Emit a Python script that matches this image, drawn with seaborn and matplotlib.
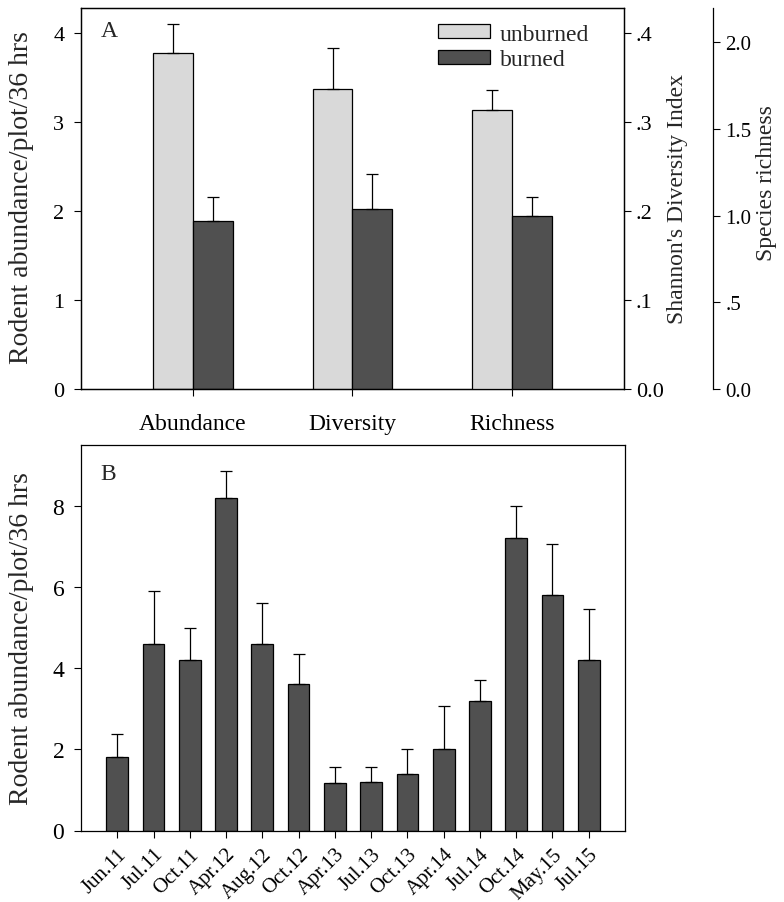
import pandas as pd
import numpy as np
import matplotlib
matplotlib.use("Agg")
import matplotlib.pyplot as plt
import seaborn as sns
from matplotlib.patches import Patch

# === DATA ===
metrics = ["Abundance", "Diversity", "Richness"]
treatments = ["unburned", "burned"]
abund_mean = [3.78, 1.885]
abund_se = [0.33, 0.28]
div_mean = [0.337, 0.202]
div_se = [0.047, 0.040]
rich_mean = [1.61, 1.00]
rich_se = [0.115, 0.108]

months = ["Jun.11", "Jul.11", "Oct.11", "Apr.12", "Aug.12", "Oct.12", "Apr.13",
          "Jul.13", "Oct.13", "Apr.14", "Jul.14", "Oct.14", "May.15", "Jul.15"]
month_mean = [1.8, 4.6, 4.2, 8.2, 4.6, 3.6, 1.17, 1.2, 1.4, 2.0, 3.2, 7.2, 5.8, 4.2]
month_se = [0.57, 1.3, 0.8, 0.66, 1.0, 0.75, 0.4, 0.37, 0.6, 1.08, 0.5, 0.8, 1.27, 1.25]

colors = {"unburned": "#d9d9d9", "burned": "#505050"}

# === STYLE ===
sns.set_style("ticks")
plt.rcParams["font.family"] = ["Liberation Serif", "DejaVu Serif"]
plt.rcParams["axes.linewidth"] = 0.9
plt.rcParams["xtick.major.size"] = 5
plt.rcParams["ytick.major.size"] = 5
plt.rcParams["xtick.color"] = "black"
plt.rcParams["ytick.color"] = "black"
FS_TICK = 16
FS_LAB = 17
FS_YLAB = 20

fig = plt.figure(figsize=(7.84, 9.03), dpi=100)
ax = fig.add_axes([81 / 784, 1 - 390 / 903, 543 / 784, 381 / 903])
ax2 = ax.twinx()
ax3 = ax.twinx()


def draw_metric(axis, metric, means, ses):
    df = pd.DataFrame({"metric": metric, "treatment": treatments, "value": means})
    sns.barplot(data=df, x="metric", y="value", hue="treatment", order=metrics,
                hue_order=treatments, palette=colors, width=0.5, edgecolor="black",
                linewidth=0.9, saturation=1, legend=False, ax=axis)
    bars = sorted(axis.patches, key=lambda p: p.get_x())
    for bar, se in zip(bars, ses):
        xc = bar.get_x() + bar.get_width() / 2
        axis.errorbar(xc, bar.get_height(), yerr=[[0], [se]], fmt="none",
                      ecolor="black", elinewidth=0.9, capsize=4.5, capthick=0.9)


# === PANEL A ===
draw_metric(ax, "Abundance", abund_mean, abund_se)
draw_metric(ax2, "Diversity", div_mean, div_se)
draw_metric(ax3, "Richness", rich_mean, rich_se)

ax.set_xlim(-0.7, 2.7)
ax.set_ylim(0, 4.286)
ax2.set_ylim(0, 0.4286)
ax3.set_ylim(0, 2.198)

ax.set_yticks([0, 1, 2, 3, 4])
ax2.set_yticks([0, 0.1, 0.2, 0.3, 0.4])
ax2.set_yticklabels(["0.0", ".1", ".2", ".3", ".4"])
ax3.set_yticks([0, 0.5, 1.0, 1.5, 2.0])
ax3.set_yticklabels(["0.0", ".5", "1.0", "1.5", "2.0"])

ax.set_xticks(range(3))
ax.set_xticklabels(metrics, fontsize=FS_LAB)
for a in (ax, ax2, ax3):
    a.set_xlabel("")
    a.tick_params(axis="y", labelsize=FS_TICK, direction="out")
ax.tick_params(axis="y", pad=7)
ax3.tick_params(axis="y", labelsize=15, pad=4)
ax.tick_params(axis="x", labelsize=FS_LAB, direction="out", pad=12)

ax.set_ylabel("Rodent abundance/plot/36 hrs", fontsize=FS_YLAB)
ax.yaxis.set_label_coords(-0.087, 0.505)
ax2.set_ylabel("Shannon's Diversity Index", fontsize=FS_LAB)
ax2.yaxis.set_label_coords(1.079, 0.5)
ax3.set_ylabel("Species richness", fontsize=FS_LAB)
ax3.yaxis.set_label_coords(1.243, 0.542)

ax3.spines["right"].set_position(("axes", 1.164))
for s in ("left", "top", "bottom"):
    ax3.spines[s].set_visible(False)
for a in (ax, ax2):
    for s in ("left", "right", "top", "bottom"):
        a.spines[s].set_visible(True)
        a.spines[s].set_color("black")
ax3.spines["right"].set_color("black")

ax.text(0.036, 0.94, "A", transform=ax.transAxes, fontsize=FS_LAB, va="center")

handles = [Patch(facecolor=colors[t], edgecolor="black", linewidth=0.9) for t in treatments]
ax.legend(handles, treatments, loc="upper right", frameon=False, fontsize=FS_LAB,
          handlelength=2.2, handleheight=0.55, handletextpad=0.4, labelspacing=0.2,
          bbox_to_anchor=(0.975, 1.015))

# === PANEL B ===
axb = fig.add_axes([81 / 784, 1 - 831.5 / 903, 544 / 784, 385.5 / 903])
sns.barplot(x=months, y=month_mean, color=colors["burned"], saturation=1, width=0.6,
            edgecolor="black", linewidth=0.9, ax=axb)
bars = sorted(axb.patches, key=lambda p: p.get_x())
for bar, se in zip(bars, month_se):
    xc = bar.get_x() + bar.get_width() / 2
    axb.errorbar(xc, bar.get_height(), yerr=[[0], [se]], fmt="none",
                 ecolor="black", elinewidth=0.9, capsize=4.5, capthick=0.9)

axb.set_xlim(-1, 14)
axb.set_ylim(0, 9.5)
axb.set_yticks([0, 2, 4, 6, 8])
axb.set_xticks(range(len(months)))
axb.set_xticklabels(months, rotation=45, ha="right", rotation_mode="anchor", fontsize=15)
axb.tick_params(axis="y", labelsize=FS_TICK + 1, direction="out", pad=7)
axb.tick_params(axis="x", direction="out", pad=5)
axb.set_ylabel("Rodent abundance/plot/36 hrs", fontsize=FS_YLAB)
axb.yaxis.set_label_coords(-0.087, 0.5)
for s in ("left", "right", "top", "bottom"):
    axb.spines[s].set_visible(True)
    axb.spines[s].set_color("black")
axb.text(0.036, 0.927, "B", transform=axb.transAxes, fontsize=FS_LAB, va="center")

fig.savefig("out.png", dpi=100)
